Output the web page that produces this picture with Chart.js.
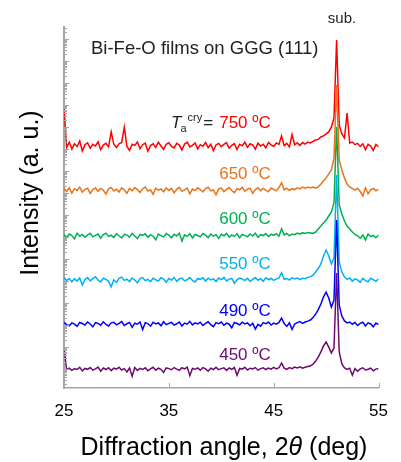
<!DOCTYPE html>
<html>
<head>
<meta charset="utf-8">
<script src="https://cdn.jsdelivr.net/npm/chart.js@4"></script>
<style>
  html, body { margin: 0; padding: 0; background: #fff; }
  #wrap { width: 401px; height: 462px; }
</style>
</head>
<body>
<div id="wrap"><canvas id="xrdChart" width="401" height="462"></canvas></div>
<script>
// 2theta grid (deg)
const TWO_THETA = [
    25, 25.25, 25.5, 25.75, 26, 26.25, 26.5, 26.75,
    27, 27.25, 27.5, 27.75, 28, 28.25, 28.5, 28.75,
    29, 29.25, 29.5, 29.75, 30, 30.25, 30.5, 30.75,
    31, 31.25, 31.5, 31.75, 32, 32.25, 32.5, 32.75,
    33, 33.25, 33.5, 33.75, 34, 34.25, 34.5, 34.75,
    35, 35.25, 35.5, 35.75, 36, 36.25, 36.5, 36.75,
    37, 37.25, 37.5, 37.75, 38, 38.25, 38.5, 38.75,
    39, 39.25, 39.5, 39.75, 40, 40.25, 40.5, 40.75,
    41, 41.25, 41.5, 41.75, 42, 42.25, 42.5, 42.75,
    43, 43.25, 43.5, 43.75, 44, 44.25, 44.5, 44.75,
    45, 45.25, 45.5, 45.75, 46, 46.25, 46.5, 46.75,
    47, 47.25, 47.5, 47.75, 48, 48.25, 48.5, 48.75,
    49, 49.25, 49.5, 49.75, 50, 50.25, 50.5, 50.75,
    51, 51.25, 51.5, 51.75, 52, 52.25, 52.5, 52.75,
    53, 53.25, 53.5, 53.75, 54, 54.25, 54.5, 54.75,
    55
];

// log10 intensity (offset traces)
const I_750 = [
    12.90, 11.05, 11.30, 10.98, 11.22, 11.10, 11.35, 10.90, 11.18, 11.26,
    11.02, 11.20, 11.12, 11.31, 10.95, 11.16, 11.24, 11.08, 11.76, 11.20,
    11.05, 11.22, 11.28, 11.98, 11.10, 10.92, 11.20, 11.15, 11.30, 11.00,
    11.18, 11.25, 10.88, 11.14, 11.22, 11.06, 11.29, 11.12, 10.97, 11.20,
    11.27, 11.10, 11.03, 11.24, 11.16, 10.94, 11.21, 11.30, 11.08, 11.15,
    11.26, 10.99, 11.18, 11.11, 11.28, 11.05, 11.20, 10.91, 11.17, 11.24,
    11.09, 11.19, 11.27, 11.02, 11.15, 11.23, 10.96, 11.20, 11.13, 11.29,
    11.06, 11.22, 11.16, 10.98, 11.25, 11.12, 11.20, 11.04, 11.28, 11.17,
    11.10, 11.26, 11.19, 11.58, 11.14, 11.24, 11.08, 11.64, 11.18, 11.26,
    11.15, 11.28, 11.21, 11.30, 11.26, 11.33, 11.39, 11.42, 11.53, 11.58,
    11.67, 11.76, 11.98, 12.39, 15.94, 12.07, 11.67, 11.48, 12.62, 11.26,
    11.30, 11.18, 11.24, 11.10, 11.22, 10.95, 11.20, 11.12, 10.92, 11.19, 11.08
];
const I_650 = [
    9.20, 9.05, 9.22, 8.98, 9.18, 9.10, 9.25, 9.02, 9.15, 9.20,
    8.96, 9.14, 9.21, 9.06, 9.19, 9.11, 8.94, 9.17, 9.24, 9.08,
    9.16, 9.03, 9.22, 9.12, 8.97, 9.19, 9.09, 9.23, 9.14, 9.01,
    9.18, 9.26, 9.07, 9.13, 8.92, 9.20, 9.11, 9.17, 9.04, 9.22,
    9.10, 9.19, 8.99, 9.15, 9.24, 9.06, 9.13, 9.21, 8.95, 9.16,
    9.09, 9.22, 9.14, 9.03, 9.18, 9.25, 9.08, 9.12, 8.90, 9.17,
    9.21, 9.05, 9.15, 9.23, 9.10, 9.00, 9.18, 9.13, 9.24, 9.07,
    9.16, 9.20, 8.97, 9.14, 9.22, 9.09, 9.19, 9.12, 9.04, 9.21,
    9.15, 9.08, 9.23, 9.45, 9.13, 9.20, 9.10, 9.18, 9.14, 9.22,
    9.17, 9.25, 9.20, 9.24, 9.22, 9.25, 9.20, 9.26, 9.39, 9.53,
    9.67, 9.85, 10.03, 10.57, 13.89, 10.48, 10.03, 9.67, 9.39, 9.26,
    9.18, 9.12, 9.20, 9.05, 8.85, 9.22, 8.95, 9.13, 9.19, 9.08, 9.16
];
const I_600 = [
    7.10, 6.95, 7.12, 7.05, 6.90, 7.15, 7.02, 7.10, 6.97, 7.08,
    7.14, 6.99, 7.06, 7.12, 6.93, 7.09, 7.16, 7.01, 7.07, 6.96,
    7.13, 7.04, 6.94, 7.11, 7.08, 6.98, 7.15, 7.03, 6.91, 7.10,
    7.06, 7.13, 6.97, 7.09, 7.02, 6.86, 7.12, 7.05, 6.99, 7.14,
    7.07, 6.95, 7.11, 7.03, 7.16, 6.80, 7.08, 7.01, 7.13, 6.94,
    7.10, 7.05, 6.99, 7.14, 7.07, 6.96, 7.12, 7.02, 7.09, 6.92,
    7.11, 7.04, 7.15, 6.98, 7.08, 7.01, 7.13, 6.95, 7.10, 7.06,
    6.99, 7.12, 7.03, 7.16, 6.97, 7.09, 7.05, 7.14, 7.00, 7.11,
    7.06, 7.13, 7.02, 7.36, 7.08, 7.15, 7.04, 7.12, 7.09, 7.16,
    7.11, 7.18, 7.14, 7.19, 7.17, 7.15, 7.21, 7.35, 7.48, 7.62,
    7.76, 7.94, 8.12, 8.53, 11.98, 8.44, 8.03, 7.71, 7.48, 7.35,
    7.21, 7.10, 7.04, 6.92, 7.08, 6.85, 7.12, 7.00, 7.06, 6.95, 7.08
];
const I_550 = [
    5.15, 5.00, 5.10, 4.95, 5.08, 4.98, 5.12, 4.80, 5.05, 5.14,
    4.99, 5.09, 5.18, 5.02, 4.94, 5.11, 5.06, 4.97, 4.72, 5.04,
    4.92, 5.10, 5.16, 5.01, 5.07, 4.96, 5.12, 5.03, 4.90, 5.09,
    5.14, 5.00, 5.06, 4.95, 5.11, 5.04, 4.98, 5.13, 5.07, 4.93,
    5.10, 5.02, 5.15, 4.97, 5.08, 5.12, 4.99, 5.05, 5.14, 5.01,
    4.94, 5.09, 5.06, 5.13, 4.98, 5.11, 5.03, 5.08, 4.96, 5.12,
    5.05, 5.15, 4.99, 5.07, 5.10, 4.88, 5.04, 5.12, 5.08, 5.00,
    5.11, 4.96, 5.06, 5.14, 5.02, 5.09, 4.97, 5.13, 5.05, 5.10,
    5.01, 5.08, 5.12, 5.36, 5.06, 5.10, 5.03, 5.14, 5.08, 5.12,
    5.05, 5.11, 5.09, 5.15, 5.17, 5.25, 5.39, 5.55, 5.76, 6.12,
    6.39, 6.12, 5.76, 6.03, 9.80, 5.85, 5.39, 5.17, 5.06, 5.12,
    4.98, 5.08, 5.03, 4.92, 5.10, 5.00, 4.95, 5.11, 5.04, 4.97, 5.08
];
const I_490 = [
    3.10, 3.00, 2.95, 3.08, 3.02, 2.92, 3.10, 3.05, 2.98, 3.12,
    3.03, 2.90, 3.09, 3.06, 2.97, 3.13, 3.01, 2.94, 3.08, 3.11,
    2.99, 3.06, 3.14, 2.96, 3.04, 3.10, 2.88, 3.07, 3.02, 3.12,
    2.78, 3.09, 3.05, 2.93, 3.11, 3.03, 3.08, 2.95, 3.13, 3.00,
    3.06, 3.10, 2.98, 3.04, 3.12, 2.94, 3.07, 3.02, 3.15, 2.99,
    3.08, 3.03, 3.11, 2.96, 3.06, 3.13, 3.00, 2.91, 3.09, 3.04,
    3.12, 2.97, 3.07, 3.02, 2.86, 3.10, 3.05, 2.99, 3.11, 3.03,
    3.08, 2.95, 3.06, 2.80, 3.01, 2.93, 3.09, 3.04, 3.12, 2.98,
    3.07, 3.02, 3.10, 3.30, 3.05, 2.92, 3.08, 2.78, 3.03, 3.09,
    3.14, 3.06, 3.12, 3.16, 3.21, 3.32, 3.48, 3.68, 3.94, 4.26,
    4.48, 4.21, 3.80, 4.12, 7.76, 3.89, 3.39, 3.17, 3.08, 3.12,
    3.02, 3.10, 2.96, 3.06, 3.11, 2.94, 3.08, 3.03, 2.90, 3.07, 3.00
];
const I_450 = [
    1.98, 0.95, 1.02, 0.92, 1.00, 0.96, 1.06, 0.90, 1.01, 0.97,
    1.05, 0.93, 0.99, 1.07, 0.88, 1.03, 0.96, 1.04, 0.91, 1.02,
    0.98, 1.06, 0.94, 1.00, 0.85, 1.03, 0.66, 1.05, 0.92, 1.01,
    0.96, 1.04, 0.90, 0.99, 1.06, 0.93, 1.02, 0.97, 0.83, 1.03,
    1.00, 0.95, 1.05, 0.98, 0.92, 1.04, 0.99, 1.07, 0.68, 1.01,
    0.97, 1.03, 0.93, 1.05, 0.99, 0.88, 1.02, 0.96, 1.06, 0.95,
    1.00, 1.04, 0.92, 1.03, 0.97, 1.05, 0.70, 1.01, 0.98, 1.06,
    0.94, 1.02, 0.99, 1.05, 0.93, 1.00, 1.04, 0.96, 1.03, 0.98,
    1.06, 0.99, 1.04, 1.25, 1.02, 0.97, 1.05, 1.00, 1.07, 1.03,
    1.08, 1.02, 1.06, 1.10, 1.12, 1.20, 1.35, 1.52, 1.76, 2.03,
    2.21, 1.98, 1.71, 1.94, 5.35, 1.76, 1.21, 1.03, 0.96, 1.02,
    0.70, 1.00, 0.88, 0.99, 1.04, 0.94, 0.97, 1.02, 0.90, 0.98, 1.01
];

const SERIES = [I_750, I_650, I_600, I_550, I_490, I_450];
const SERIES_NAMES = ['750 ºC', '650 ºC', '600 ºC', '550 ºC', '490 ºC', '450 ºC'];
const SERIES_COLORS = ['#ff0000', '#e8731a', '#00b050', '#00b0f0', '#0000ff', '#6e0a6e'];
const X_TICKS = [25, 35, 45, 55];

const FONT = '"Liberation Sans", Arial, sans-serif';
const AXIS_GRAY = '#a6a6a6';

// inward tick marks, log-style minor ticks on the intensity axis
const tickPlugin = {
    id: 'inwardTicks',
    afterDatasetsDraw(chart) {
        const { ctx, chartArea, scales: { x, y } } = chart;
        ctx.save();
        ctx.strokeStyle = AXIS_GRAY;
        ctx.lineWidth = 1;
        ctx.beginPath();
        for (let n = 0; n <= 17; n++) {
            for (let k = 1; k <= 9; k++) {
                const v = n + Math.log10(k);
                if (v < y.min || v > y.max) continue;
                const py = Math.round(y.getPixelForValue(v)) + 0.5;
                const len = k === 1 ? 5 : 3;
                ctx.moveTo(chartArea.left, py);
                ctx.lineTo(chartArea.left + len, py);
            }
        }
        X_TICKS.forEach(t => {
            const px = Math.round(x.getPixelForValue(t)) + 0.5;
            ctx.moveTo(px, chartArea.bottom);
            ctx.lineTo(px, chartArea.bottom - 5);
        });
        ctx.stroke();
        ctx.restore();
    }
};

const textPlugin = {
    id: 'texts',
    afterDraw(chart) {
        const { ctx, scales: { x, y } } = chart;
        ctx.save();
        ctx.textBaseline = 'alphabetic';

        // series labels
        const levels = [11.94, 9.62, 7.57, 5.53, 3.39, 1.39];
        const right = x.getPixelForValue(44.72);
        ctx.font = `17px ${FONT}`;
        ctx.textAlign = 'right';
        SERIES_NAMES.forEach((name, i) => {
            ctx.fillStyle = SERIES_COLORS[i];
            ctx.fillText(name, right, y.getPixelForValue(levels[i]));
        });

        // T_a^cry =
        const by = y.getPixelForValue(levels[0]);
        const eqRight = right - ctx.measureText(SERIES_NAMES[0]).width - 6;
        ctx.fillStyle = '#222';
        ctx.fillText('=', eqRight, by);
        ctx.textAlign = 'left';
        let cx = 171;
        ctx.font = `italic 17px ${FONT}`;
        ctx.fillText('T', cx, by);
        cx += ctx.measureText('T').width - 1;
        ctx.font = `11px ${FONT}`;
        ctx.fillText('a', cx, by + 4);
        cx += ctx.measureText('a').width + 1;
        ctx.fillText('cry', cx, by - 7);

        // header texts
        ctx.font = `18.5px ${FONT}`;
        ctx.fillText('Bi-Fe-O films on GGG (111)', 91, 54);
        ctx.font = `15px ${FONT}`;
        ctx.textAlign = 'center';
        ctx.fillText('sub.', 342, 23);

        // x axis title
        ctx.fillStyle = '#000';
        ctx.textAlign = 'left';
        const partA = 'Diffraction angle, 2';
        const partB = 'θ';
        const partC = ' (deg)';
        ctx.font = `25px ${FONT}`;
        const wA = ctx.measureText(partA).width;
        const wC = ctx.measureText(partC).width;
        ctx.font = `italic 25px ${FONT}`;
        const wB = ctx.measureText(partB).width;
        let tx = 224 - (wA + wB + wC) / 2;
        ctx.font = `25px ${FONT}`;
        ctx.fillText(partA, tx, 455);
        tx += wA;
        ctx.font = `italic 25px ${FONT}`;
        ctx.fillText(partB, tx, 455);
        tx += wB;
        ctx.font = `25px ${FONT}`;
        ctx.fillText(partC, tx, 455);

        // y axis title
        ctx.translate(38, 193);
        ctx.rotate(-Math.PI / 2);
        ctx.textAlign = 'center';
        ctx.fillText('Intensity (a. u.)', 0, 0);
        ctx.restore();
    }
};

function createChart() {
    const ctx = document.getElementById('xrdChart').getContext('2d');
    const datasets = SERIES.map((vals, i) => ({
        label: SERIES_NAMES[i],
        data: TWO_THETA.map((t, j) => ({ x: t, y: vals[j] })),
        borderColor: SERIES_COLORS[i],
        borderWidth: 1.5,
        pointRadius: 0,
        tension: 0,
        fill: false,
        order: SERIES.length - i
    }));

    new Chart(ctx, {
        type: 'line',
        data: { datasets },
        options: {
            responsive: false,
            devicePixelRatio: 1,
            animation: false,
            events: [],
            layout: { padding: { top: 27, right: 19, left: 0, bottom: 0 } },
            plugins: {
                legend: { display: false },
                tooltip: { enabled: false }
            },
            scales: {
                x: {
                    type: 'linear',
                    min: 25,
                    max: 55,
                    afterBuildTicks: s => { s.ticks = X_TICKS.map(v => ({ value: v })); },
                    afterFit: s => { s.height = 74; },
                    grid: { display: false, drawTicks: false },
                    border: { color: AXIS_GRAY, width: 1.5 },
                    ticks: {
                        color: '#000',
                        font: { family: FONT, size: 17 },
                        padding: 13,
                        maxRotation: 0,
                        autoSkip: false
                    }
                },
                y: {
                    type: 'linear',
                    min: 0.12,
                    max: 16.53,
                    afterFit: s => { s.width = 64; },
                    grid: { display: false, drawTicks: false },
                    border: { color: AXIS_GRAY, width: 2 },
                    ticks: { display: false }
                }
            }
        },
        plugins: [tickPlugin, textPlugin]
    });
}

document.addEventListener('DOMContentLoaded', createChart);
</script>
</body>
</html>
